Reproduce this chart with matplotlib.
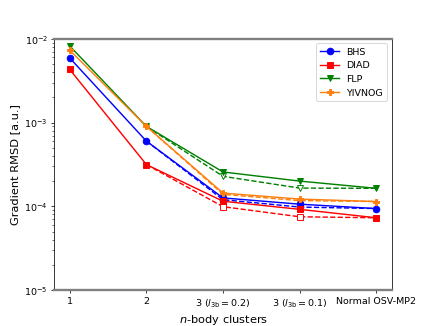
import matplotlib
matplotlib.use('Agg')
import matplotlib.pyplot as plt

x_full = [1, 2, 3, 4, 5]
x_dash = [2, 3, 4, 5]
tick_labels = ['1', '2', r'3 ($l_{3\mathrm{b}}=0.2$)', r'3 ($l_{3\mathrm{b}}=0.1$)', 'Normal OSV-MP2']

names = ['BHS', 'DIAD', 'FLP', 'YIVNOG']
colors = ['blue', 'red', 'green', 'tab:orange']
markers = ['o', 's', 'v', 'P']

bhs = [5.9e-3, 6.0e-4, 1.26e-4, 1.06e-4, 9.4e-5]
diad = [4.3e-3, 3.15e-4, 1.15e-4, 9.2e-5, 7.3e-5]
flp = [8.2e-3, 9.0e-4, 2.57e-4, 2.0e-4, 1.64e-4]
yivnog = [7.3e-3, 9.0e-4, 1.44e-4, 1.22e-4, 1.14e-4]

bhs_dash = [6.0e-4, 1.20e-4, 9.8e-5, 9.4e-5]
diad_dash = [3.15e-4, 9.9e-5, 7.5e-5, 7.3e-5]
flp_dash = [9.0e-4, 2.28e-4, 1.65e-4, 1.64e-4]
yivnog_dash = [9.0e-4, 1.39e-4, 1.17e-4, 1.14e-4]

solid = [bhs, diad, flp, yivnog]
dashed = [bhs_dash, diad_dash, flp_dash, yivnog_dash]

fig, ax = plt.subplots(figsize=(6.4, 4.8), dpi=68)

for vals, c, m in zip(dashed, colors, markers):
    ax.plot(x_dash, vals, '--', color=c, marker=m, markersize=7,
            markerfacecolor='white', markevery=[1, 2], linewidth=1.5, zorder=2)

for vals, c, m, n in zip(solid, colors, markers, names):
    ax.plot(x_full, vals, '-', color=c, marker=m, markersize=7,
            linewidth=1.5, label=n, zorder=3)

ax.set_yscale('log')
ax.set_ylim(1e-5, 1e-2)
ax.set_xlim(0.8, 5.2)
ax.set_xticks(x_full)
ax.set_xticklabels(tick_labels)
ax.set_xlabel('$n$-body clusters', fontsize=12)
ax.set_ylabel('Gradient RMSD [a.u.]', fontsize=12)

ax.spines['top'].set_color('gray')
ax.spines['top'].set_linewidth(2.5)
ax.spines['bottom'].set_color('gray')
ax.spines['bottom'].set_linewidth(2.5)

ax.legend(loc='upper right')
fig.savefig('out.png', dpi=68)
